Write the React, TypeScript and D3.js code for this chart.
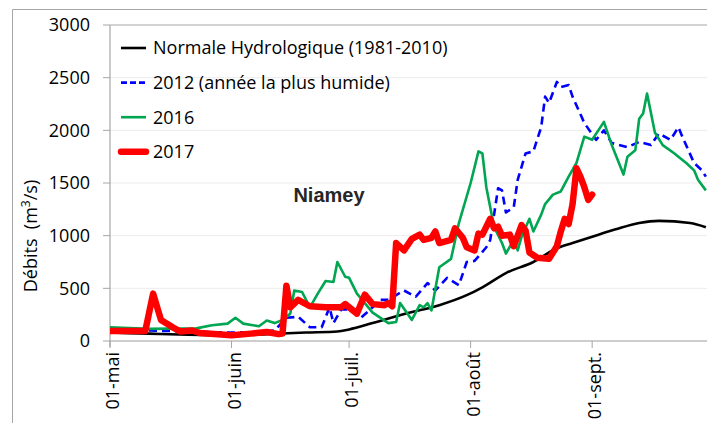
import React from "react";
import * as d3 from "d3";

// Day offsets from 1 May (2017 calendar) and discharge values (m³/s)
const normalDays = [0, 10, 20, 31, 40, 50, 58, 61, 67, 76, 84, 91, 95, 101, 108, 114, 118, 123, 129, 135, 140, 148, 152];
const normalValues = [80, 70, 60, 55, 65, 80, 90, 110, 170, 265, 340, 435, 510, 645, 750, 880, 930, 990, 1060, 1120, 1140, 1120, 1080];

const y2012Days = [0, 9, 15, 25, 31, 38, 42, 45, 48, 51, 54, 56, 57, 59, 62, 64, 67, 69, 71, 75, 78, 81, 83, 86, 89, 91, 93, 96, 97, 99, 100, 101, 103, 104, 106, 108, 110, 111, 112, 114, 115, 117, 118, 121, 124, 126, 128, 132, 135, 138, 140, 143, 145, 146, 149, 151, 152];
const y2012Values = [100, 100, 95, 85, 80, 85, 100, 220, 230, 130, 130, 320, 170, 300, 300, 220, 320, 390, 390, 480, 420, 550, 480, 600, 530, 750, 760, 890, 960, 1450, 1430, 1220, 1270, 1530, 1780, 1800, 2030, 2320, 2260, 2460, 2410, 2430, 2320, 2070, 1910, 2000, 1880, 1840, 1890, 1860, 1970, 1910, 2030, 1940, 1690, 1620, 1560];

const y2016Days = [0, 10, 22, 26, 30, 32, 34, 38, 40, 42, 44, 46, 47, 49, 51, 53, 55, 57, 58, 60, 61, 63, 67, 71, 73, 74, 77, 79, 80, 81, 82, 84, 87, 89, 92, 94, 95, 96, 98, 100, 101, 103, 104, 105, 107, 108, 110, 111, 113, 115, 117, 119, 121, 123, 126, 128, 131, 132, 134, 135, 136, 137, 139, 141, 144, 145, 147, 149, 150, 152];
const y2016Values = [130, 115, 120, 150, 165, 220, 165, 140, 195, 170, 200, 260, 480, 465, 320, 450, 570, 560, 750, 610, 600, 450, 270, 170, 180, 360, 200, 340, 320, 360, 290, 700, 780, 1120, 1500, 1800, 1780, 1460, 1080, 930, 830, 960, 860, 990, 1160, 1040, 1200, 1300, 1390, 1420, 1560, 1690, 1940, 1910, 2080, 1860, 1580, 1750, 1810, 2110, 2160, 2350, 1980, 1860, 1780, 1750, 1690, 1620, 1530, 1430];

const y2017Days = [0, 9, 11, 13, 16, 18, 21, 23, 31, 36, 40, 43, 44, 45, 46, 48, 51, 55, 59, 60, 63, 65, 67, 70, 71, 72, 73, 75, 77, 79, 80, 82, 83, 84, 87, 88, 90, 91, 93, 94, 95, 97, 98, 99, 100, 102, 103, 105, 106, 107, 109, 112, 114, 115, 116, 117, 118, 119, 120, 121, 122, 123];
const y2017Values = [95, 95, 450, 200, 130, 90, 100, 75, 55, 70, 85, 65, 70, 525, 320, 390, 330, 320, 320, 350, 260, 440, 350, 340, 360, 330, 930, 860, 970, 1010, 960, 980, 1040, 930, 960, 1070, 980, 890, 860, 1020, 1010, 1160, 1070, 1085, 1000, 1010, 900, 1100, 1050, 840, 790, 780, 900, 1040, 1160, 1110, 1300, 1640, 1560, 1460, 1340, 1390];

const yTicks = [0, 500, 1000, 1500, 2000, 2500, 3000];
const xTickDates = ["2017-05-01", "2017-06-01", "2017-07-01", "2017-08-01", "2017-09-01"];
const xTickLabels = ["01-mai", "01-juin", "01-juil.", "01-août", "01-sept."];
const legendLabels = ["Normale Hydrologique (1981-2010)", "2012 (année la plus humide)", "2016", "2017"];

const W = 707;
const H = 423;
const left = 110;
const top = 25;
const bottom = 341;

export default function App() {
  const start = new Date("2017-05-01T00:00:00Z");
  const end = new Date("2017-10-01T00:00:00Z");
  const x = d3.scaleUtc().domain([start, end]).range([left, left + 153 * 3.92]);
  const y = d3.scaleLinear().domain([0, 3000]).range([bottom, top]);
  const dayDate = (d: number) => d3.utcDay.offset(start, d);

  const mk = (days: number[], vals: number[]) => days.map((d, i) => [dayDate(d), vals[i]] as [Date, number]);
  const line = d3.line<[Date, number]>().x((p) => x(p[0])).y((p) => y(p[1]));
  const smooth = d3.line<[Date, number]>().x((p) => x(p[0])).y((p) => y(p[1])).curve(d3.curveMonotoneX);

  const series = [
    { d: smooth(mk(normalDays, normalValues)), color: "#000000", width: 2.6, dash: undefined as string | undefined },
    { d: line(mk(y2012Days, y2012Values)), color: "#0000ff", width: 2.6, dash: "8,5" },
    { d: line(mk(y2016Days, y2016Values)), color: "#00a651", width: 2.6, dash: undefined },
    { d: line(mk(y2017Days, y2017Values)), color: "#ff0000", width: 6.5, dash: undefined },
  ];

  const font = "'Open Sans', sans-serif";

  return (
    <svg width={W} height={H} style={{ position: "absolute", left: 0, top: 0, background: "#fff" }}>
      <defs>
        <clipPath id="plotClip">
          <rect x={left} y={top - 5} width={W - left} height={bottom - top + 10} />
        </clipPath>
      </defs>
      <rect x={0} y={0} width={W} height={H} fill="#fff" />
      {/* outer frame */}
      <line x1={12.5} y1={9.5} x2={W} y2={9.5} stroke="#a6a6a6" strokeWidth={1} />
      <line x1={12.5} y1={9.5} x2={12.5} y2={H} stroke="#a6a6a6" strokeWidth={1} />

      {/* gridlines */}
      {yTicks.map((t) => (
        <line key={"g" + t} x1={left} x2={W} y1={y(t)} y2={y(t)} stroke={t === 3000 ? "#a6a6a6" : "#ececec"} strokeWidth={1} />
      ))}
      {/* y axis */}
      <line x1={left} x2={left} y1={top} y2={bottom + 6} stroke="#a6a6a6" strokeWidth={1.2} />
      {yTicks.map((t) => (
        <g key={"yt" + t}>
          <line x1={left - 7} x2={left} y1={y(t)} y2={y(t)} stroke="#a6a6a6" strokeWidth={1} />
          <text x={90} y={y(t)} dy="0.35em" textAnchor="end" fontFamily={font} fontSize={18} fill="#000">
            {t}
          </text>
        </g>
      ))}
      {/* x axis */}
      <line x1={left} x2={W} y1={bottom} y2={bottom} stroke="#a6a6a6" strokeWidth={1.2} />
      {xTickDates.map((s, i) => {
        const xx = x(new Date(s + "T00:00:00Z"));
        return (
          <g key={s}>
            <line x1={xx} x2={xx} y1={bottom} y2={bottom + 7} stroke="#a6a6a6" strokeWidth={1} />
            <text
              transform={`translate(${xx + 3},${352}) rotate(-90)`}
              dy="0.35em"
              textAnchor="end"
              fontFamily={font}
              fontSize={18}
              fill="#000"
            >
              {xTickLabels[i]}
            </text>
          </g>
        );
      })}

      {/* y axis title */}
      <text
        transform={`translate(31,236) rotate(-90)`}
        textAnchor="middle"
        dy="0.35em"
        fontFamily={font}
        fontSize={18}
        fill="#000"
        style={{ whiteSpace: "pre" }}
      >
        {"Débits  (m"}<tspan dy="-7" fontSize={12}>3</tspan><tspan dy="7">/s)</tspan>
      </text>

      {/* series */}
      <g clipPath="url(#plotClip)">
        {series.map((s, i) => (
          <path
            key={i}
            d={s.d || ""}
            fill="none"
            stroke={s.color}
            strokeWidth={s.width}
            strokeDasharray={s.dash}
            strokeLinejoin="round"
            strokeLinecap={i === 3 ? "round" : "butt"}
          />
        ))}
      </g>

      {/* Niamey label */}
      <text x={329} y={202} textAnchor="middle" fontFamily="'Liberation Sans', Arial, sans-serif" fontWeight="bold" fontSize={20} fill="#262626">
        Niamey
      </text>

      {/* legend */}
      {legendLabels.map((lab, i) => {
        const ly = 48 + i * 34.6;
        const s = series[i];
        return (
          <g key={lab}>
            <line
              x1={121}
              x2={146}
              y1={ly}
              y2={ly}
              stroke={s.color}
              strokeWidth={i === 3 ? 6.5 : 2.6}
              strokeDasharray={i === 1 ? "6,3" : undefined}
              strokeLinecap={i === 3 ? "round" : "butt"}
            />
            <text x={153} y={ly} dy="0.35em" fontFamily={font} fontSize={18} fill="#000">
              {lab}
            </text>
          </g>
        );
      })}
    </svg>
  );
}
